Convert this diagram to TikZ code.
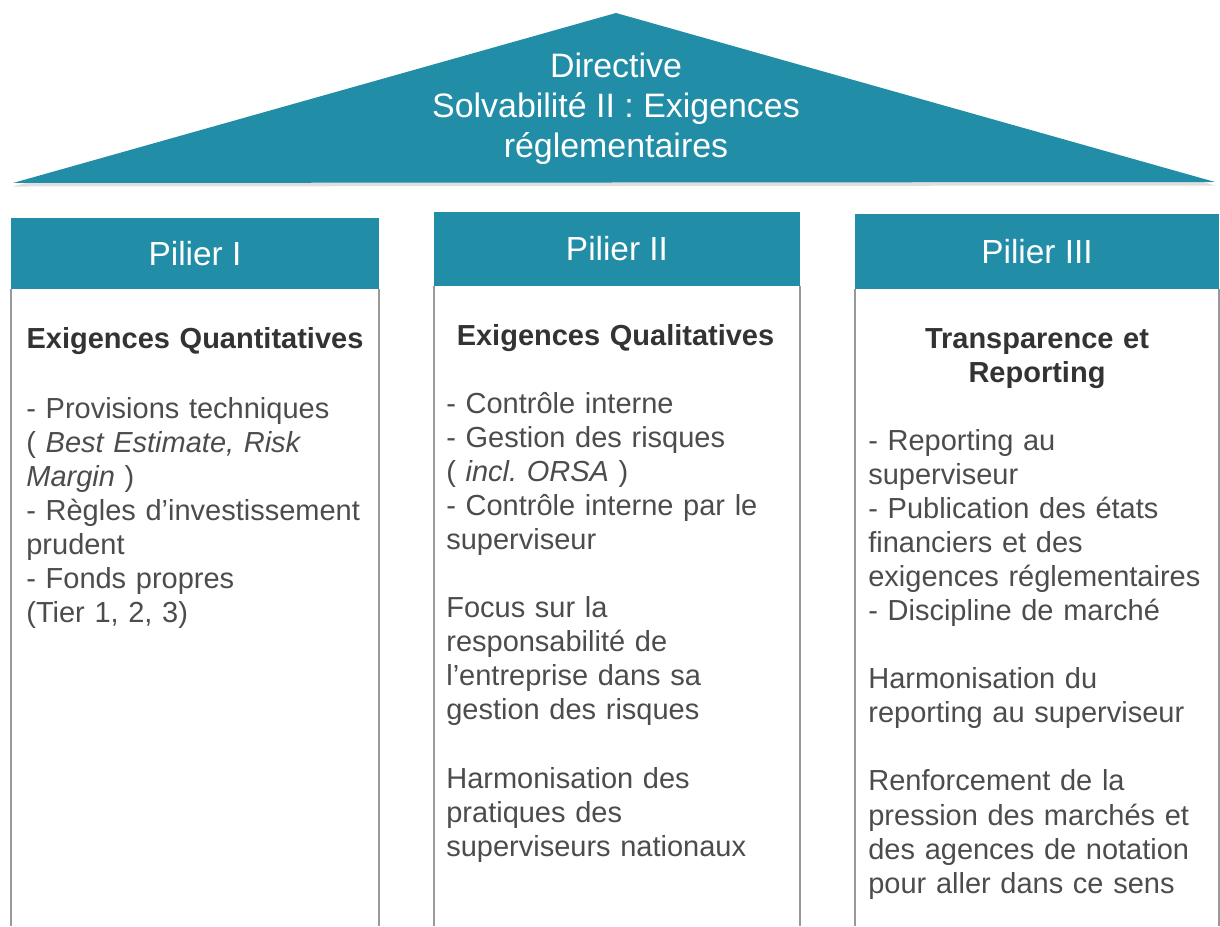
\documentclass[tikz,border=0pt]{standalone}
\usepackage{fontspec}
\setmainfont{Liberation Sans}
\usetikzlibrary{shadows}
\definecolor{pillarblue}{RGB}{33,141,166}
\tikzstyle{header} = [fill=pillarblue, text=white, inner sep=0pt, font=\fontsize{19}{22}\selectfont]
\tikzstyle{column} = [line width=1pt, color=black!40]
\tikzstyle{title} = [anchor=base, text width=7cm, align=center, inner sep=0pt, text=black!80, font=\fontsize{16.5}{19.4}\selectfont\bfseries]
\tikzstyle{body} = [anchor=base west, text width=7cm, align=left, inner sep=0pt, text=black!70, font=\fontsize{16.5}{19.4}\selectfont]
\newcommand{\skipline}{\\[\baselineskip]}

\begin{document}
\begin{tikzpicture}
		\useasboundingbox (0,0) rectangle (24.4,18.52);
		
		% Coordinates
		\coordinate (O) at (0,0);
		\coordinate (L) at (0.26,14.86);
		\coordinate (T) at (12.32,18.26);
		\coordinate (R) at (24.3,14.88);
		
		% Roof
		\fill[pillarblue, drop shadow={opacity=0.25, shadow xshift=0pt, shadow yshift=-2pt}] (L) -- (T) -- (R) -- cycle;
		\node (roof) [text=white, align=center, font=\fontsize{19.3}{22.8}\selectfont] at (12.32,16.34) {Directive\\Solvabilité II : Exigences\\réglementaires};
		
		% Headers
		\node (p1) [header, minimum width=7.36cm, minimum height=1.42cm] at (3.9,13.45) {Pilier I};
		\node (p2) [header, minimum width=7.32cm, minimum height=1.48cm] at (12.34,13.54) {Pilier II};
		\node (p3) [header, minimum width=7.28cm, minimum height=1.5cm] at (20.74,13.49) {Pilier III};
		
		% Columns
		\foreach \p in {p1,p2,p3}
		{
			\draw[column] (\p.south west) -- (\p.south west |- O);
			\draw[column] (\p.south east) -- (\p.south east |- O);
		}
		
		% Pilier I
		\node (t1) [title] at (3.9,11.56) {Exigences Quantitatives};
		\node (b1) [body] at (0.52,10.16) {- Provisions techniques\\( \textit{Best Estimate, Risk}\\\textit{Margin} )\\- Règles d'investissement\\prudent\\- Fonds propres\\(Tier 1, 2, 3)};
		
		% Pilier II
		\node (t2) [title] at (12.31,11.62) {Exigences Qualitatives};
		\node (b2) [body] at (8.92,10.26) {- Contrôle interne\\- Gestion des risques\\( \textit{incl.\ ORSA} )\\- Contrôle interne par le\\superviseur\skipline Focus sur la\\responsabilité de\\l'entreprise dans sa\\gestion des risques\skipline Harmonisation des\\pratiques des\\superviseurs nationaux};
		
		% Pilier III
		\node (t3) [title] at (20.74,11.56) {Transparence et\\Reporting};
		\node (b3) [body] at (17.36,9.52) {- Reporting au\\superviseur\\- Publication des états\\financiers et des\\exigences réglementaires\\- Discipline de marché\skipline Harmonisation du\\reporting au superviseur\skipline Renforcement de la\\pression des marchés et\\des agences de notation\\pour aller dans ce sens};
	\end{tikzpicture}
\end{document}
